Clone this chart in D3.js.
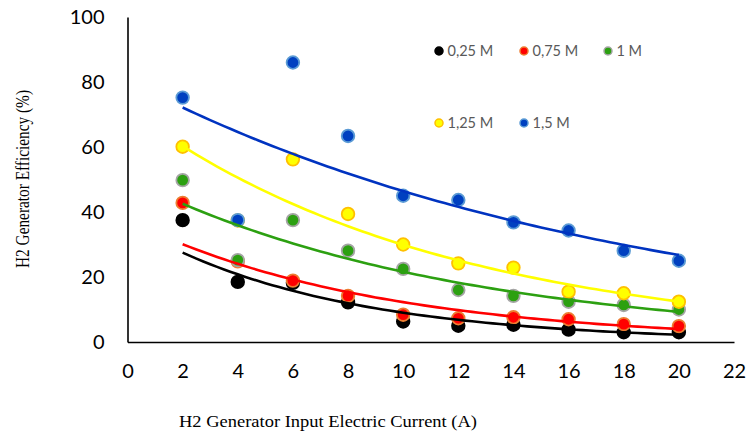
<!DOCTYPE html>
<html>
<head>
<meta charset="utf-8">
<script src="https://cdn.jsdelivr.net/npm/d3@7/dist/d3.min.js"></script>
<style>
  html, body { margin: 0; padding: 0; background: #fff; }
  svg { display: block; }
</style>
</head>
<body>
<svg id="chart" width="748" height="434"></svg>
<script>
// Input current (A)
const current = [2, 4, 6, 8, 10, 12, 14, 16, 18, 20];

// Efficiency (%) per electrolyte concentration
const eff025 = [37.5, 18.5, 18.2, 12.2, 6.3, 5.0, 5.3, 3.8, 3.0, 3.0];
const eff075 = [42.8, 24.8, 18.9, 14.2, 8.4, 7.3, 7.6, 7.0, 5.5, 4.9];
const eff100 = [49.8, 25.2, 37.5, 28.1, 22.5, 16.0, 14.2, 12.4, 11.4, 10.0];
const eff125 = [60.1, 37.4, 56.2, 39.4, 30.0, 24.2, 22.9, 15.5, 15.0, 12.4];
const eff150 = [75.2, 37.5, 86.0, 63.4, 45.0, 43.7, 36.8, 34.3, 28.1, 25.0];

const seriesNames = ["0,25 M", "0,75 M", "1 M", "1,25 M", "1,5 M"];
const xTicks = [0, 2, 4, 6, 8, 10, 12, 14, 16, 18, 20, 22];
const yTicks = [0, 20, 40, 60, 80, 100];

const styles = [
  { fill: "#000000", stroke: "#000000", line: "#000000" },
  { fill: "#ff0000", stroke: "#ed7d31", line: "#ff0000" },
  { fill: "#2ca011", stroke: "#a5a5a5", line: "#2ca011" },
  { fill: "#ffff00", stroke: "#ffc000", line: "#ffff00" },
  { fill: "#0040c0", stroke: "#5b9bd5", line: "#0033c0" }
];

const values = [eff025, eff075, eff100, eff125, eff150];
const series = seriesNames.map((name, i) => ({
  name,
  style: styles[i],
  points: current.map((x, j) => ({ x, y: values[i][j] }))
}));

// Least-squares exponential fit y = a * exp(b x)
function expFit(points) {
  const mx = d3.mean(points, p => p.x);
  const my = d3.mean(points, p => Math.log(p.y));
  let sxy = 0, sxx = 0;
  points.forEach(p => {
    sxy += (p.x - mx) * (Math.log(p.y) - my);
    sxx += (p.x - mx) * (p.x - mx);
  });
  const b = sxy / sxx;
  const lnA = my - b * mx;
  return x => Math.exp(lnA + b * x);
}

const svg = d3.select("#chart");
const x = d3.scaleLinear().domain([0, 22]).range([127.5, 734]);
const y = d3.scaleLinear().domain([0, 100]).range([342, 17]);

const tickFont = "Lato, 'Open Sans', sans-serif";
const titleFont = "'Liberation Serif', 'Times New Roman', serif";

// Y axis
const yAxis = svg.append("g")
  .attr("transform", `translate(${x(0)},0)`)
  .call(d3.axisLeft(y).tickValues(yTicks).tickSize(0).tickPadding(23));
yAxis.select(".domain").attr("stroke", "#000").attr("stroke-width", 1.6);
yAxis.selectAll("text")
  .attr("font-family", tickFont).attr("font-size", 20).attr("fill", "#000");

// X axis
const xAxis = svg.append("g")
  .attr("transform", `translate(0,${y(0)})`)
  .call(d3.axisBottom(x).tickValues(xTicks).tickSize(0).tickPadding(22));
xAxis.select(".domain").attr("stroke", "#000").attr("stroke-width", 1.6);
xAxis.selectAll("text")
  .attr("font-family", tickFont).attr("font-size", 20).attr("fill", "#000");

// Markers
series.forEach(s => {
  svg.append("g").selectAll("circle")
    .data(s.points)
    .join("circle")
    .attr("cx", d => x(d.x))
    .attr("cy", d => y(d.y))
    .attr("r", 6.3)
    .attr("fill", s.style.fill)
    .attr("stroke", s.style.stroke)
    .attr("stroke-width", 1.8);
});

// Exponential trend lines
series.forEach(s => {
  const f = expFit(s.points);
  const xs = d3.range(2, 20.001, 0.25);
  svg.append("path")
    .datum(xs)
    .attr("fill", "none")
    .attr("stroke", s.style.line)
    .attr("stroke-width", 2.6)
    .attr("d", d3.line().x(d => x(d)).y(d => y(f(d))));
});

// Legend
const legendPos = [[439, 51], [524, 51], [608, 51], [439, 123], [524, 123]];
series.forEach((s, i) => {
  const g = svg.append("g").attr("transform", `translate(${legendPos[i][0]},${legendPos[i][1]})`);
  g.append("circle").attr("r", 4).attr("fill", s.style.fill)
    .attr("stroke", s.style.stroke).attr("stroke-width", 1.5);
  g.append("text").attr("x", 8.5).attr("dy", "0.35em")
    .attr("font-family", tickFont).attr("font-size", 14.5).attr("fill", "#595959")
    .text(s.name);
});

// Axis titles
svg.append("text")
  .attr("transform", `translate(29,179) rotate(-90)`)
  .attr("text-anchor", "middle")
  .attr("font-family", titleFont)
  .attr("font-size", 18).attr("fill", "#000")
  .attr("textLength", 178).attr("lengthAdjust", "spacingAndGlyphs")
  .text("H2 Generator Efficiency (%)");

svg.append("text")
  .attr("x", 328).attr("y", 427)
  .attr("text-anchor", "middle")
  .attr("font-family", titleFont)
  .attr("font-size", 17.5).attr("fill", "#000")
  .attr("textLength", 298).attr("lengthAdjust", "spacingAndGlyphs")
  .text("H2 Generator Input Electric Current (A)");
</script>
</body>
</html>
